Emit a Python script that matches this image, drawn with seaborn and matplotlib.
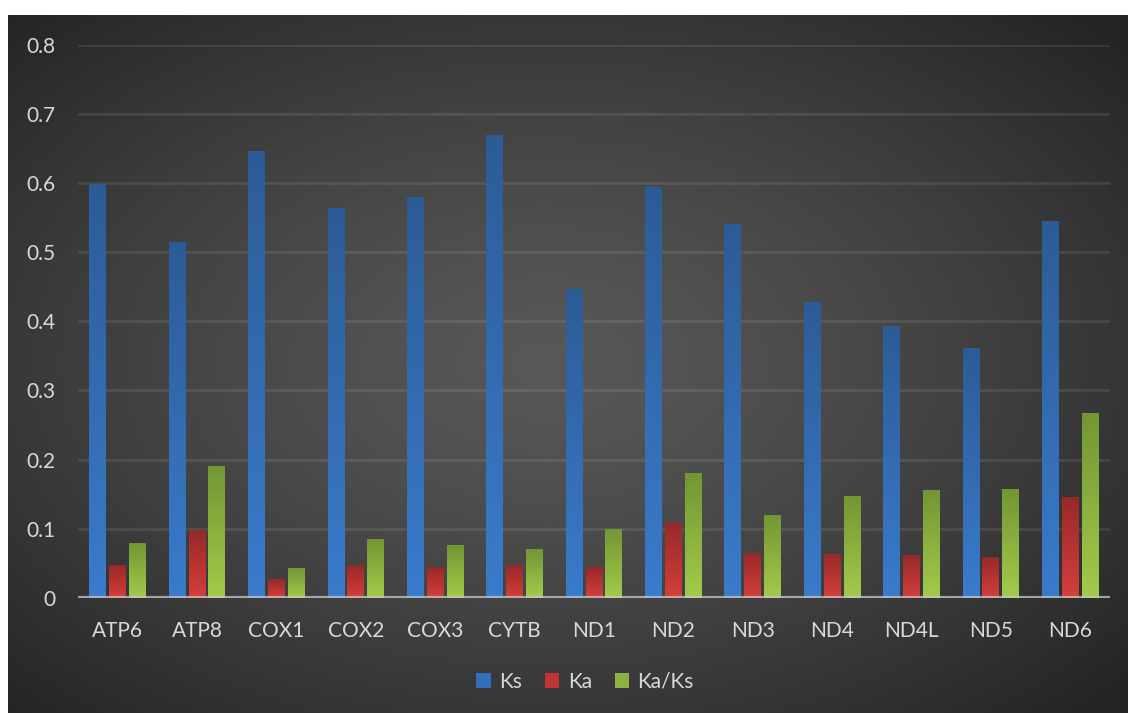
import numpy as np
import pandas as pd
import matplotlib
matplotlib.use("Agg")
import matplotlib.pyplot as plt
import seaborn as sns
from matplotlib.colors import LinearSegmentedColormap
from matplotlib.patches import Patch

# Substitution rates per mitochondrial gene
genes = ["ATP6", "ATP8", "COX1", "COX2", "COX3", "CYTB", "ND1",
         "ND2", "ND3", "ND4", "ND4L", "ND5", "ND6"]
ks = [0.599, 0.515, 0.647, 0.564, 0.580, 0.670, 0.446,
      0.594, 0.541, 0.428, 0.393, 0.361, 0.545]
ka = [0.047, 0.098, 0.027, 0.047, 0.044, 0.047, 0.044,
      0.108, 0.065, 0.063, 0.062, 0.058, 0.146]
ka_ks = [0.079, 0.191, 0.043, 0.085, 0.076, 0.070, 0.099,
         0.180, 0.120, 0.147, 0.156, 0.157, 0.267]
series = ["Ks", "Ka", "Ka/Ks"]
yticks = [0, 0.1, 0.2, 0.3, 0.4, 0.5, 0.6, 0.7, 0.8]

df = pd.DataFrame({
    "gene": genes * 3,
    "series": [s for s in series for _ in genes],
    "value": ks + ka + ka_ks,
})

# vertical gradient per series: (top colour, bottom colour)
grads = [("#2c5c96", "#3a7bcc"), ("#962a2a", "#d63e3b"), ("#739634", "#a3cb4a")]
mids = ["#3470b8", "#c03533", "#8cb33f"]

W, H = 1128, 713
sns.set_theme(style="white")
plt.rcParams["font.family"] = ["Lato", "DejaVu Sans"]
fig = plt.figure(figsize=(W / 100, H / 100), dpi=100, facecolor="white")

# dark radial backdrop
bg = fig.add_axes([8 / W, 0, 1 - 8 / W, 1 - 15 / H], zorder=-5)
yy, xx = np.mgrid[-0.5:0.5:400j, -0.5:0.5:700j]
r = np.sqrt((xx + 0.02) ** 2 + (yy + 0.0) ** 2) / 0.70
t = np.clip(r, 0, 1) ** 1.3
lum = (0x58 + (0x24 - 0x58) * t) / 255.0
img = np.dstack([lum, lum, lum])
bg.imshow(img, extent=(0, 1, 0, 1), aspect="auto", origin="upper")
bg.set_axis_off()

ax = fig.add_axes([78 / W, (H - 597.7) / H, (1110 - 78) / W, (597.7 - 45) / H])
ax.set_facecolor("none")
sns.barplot(data=df, x="gene", y="value", hue="series", order=genes,
            hue_order=series, palette=mids, width=0.75, gap=0.15,
            saturation=1, legend=False, ax=ax, zorder=3)

xlim = ax.get_xlim()
grad = np.linspace(0, 1, 128).reshape(-1, 1)
for cont, (top, bot) in zip(ax.containers, grads):
    cmap = LinearSegmentedColormap.from_list("g", [bot, top])
    for bar in cont:
        bar.set_edgecolor("none")
        x0, w, h = bar.get_x(), bar.get_width(), bar.get_height()
        ax.imshow(grad, extent=(x0, x0 + w, 0, h), origin="lower",
                  cmap=cmap, aspect="auto", zorder=3.5)

ax.set_xlim(xlim)
ax.set_ylim(0, 0.8)
ax.set_yticks(yticks)
ax.set_yticklabels(["0" if v == 0 else f"{v:.1f}" for v in yticks])
ax.yaxis.grid(True, color="white", alpha=0.09, linewidth=2.0, zorder=1)
ax.set_axisbelow(True)
for s in ax.spines.values():
    s.set_visible(False)
ax.axhline(0, color="#c8c8c8", linewidth=3, alpha=0.75, zorder=6)
ax.tick_params(axis="both", length=0, labelsize=15, colors="#d9d9d9")
ax.tick_params(axis="y", pad=16)
ax.tick_params(axis="x", pad=17)
ax.set_xlabel("")
ax.set_ylabel("")

handles = [Patch(facecolor=c, edgecolor="none") for c in mids]
fig.legend(handles, series, loc="center", bbox_to_anchor=(585 / W, 1 - 682 / H),
           ncol=3, frameon=False, fontsize=15, labelcolor="#d9d9d9",
           handlelength=0.7, handleheight=0.7, handletextpad=0.4,
           columnspacing=1.1)

fig.savefig("out.png", dpi=100, facecolor="white")
